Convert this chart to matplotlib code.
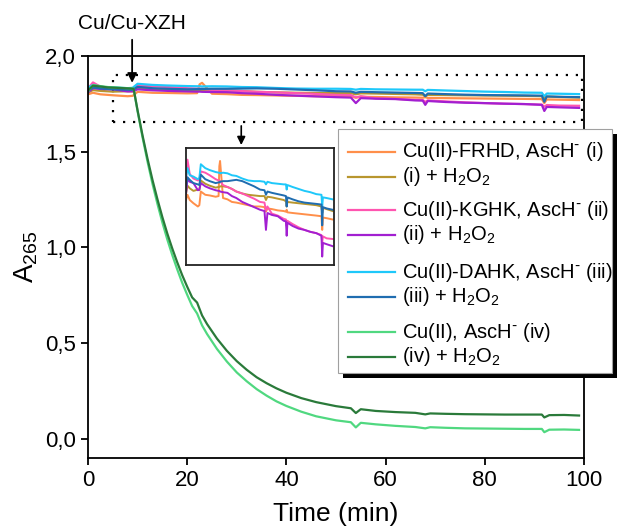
"""
A265 vs time for the Cu(II)-peptide / ascorbate oxidation traces,
with a zoomed inset of the flat (protected) curves.
"""

import matplotlib

matplotlib.use("Agg")
import matplotlib.pyplot as plt
from matplotlib.lines import Line2D
from matplotlib.patches import Rectangle

plt.rcParams.update({
    "font.family": ["Liberation Sans", "DejaVu Sans"],
    "mathtext.default": "regular",
    "axes.linewidth": 1.3,
})

# ---- data ----
T_FLAT = [0, 1, 2.5, 5, 8, 9, 10, 13, 16, 20, 22, 22.5, 23, 25, 28, 31, 34, 38, 42,
          46, 50, 53, 54, 55, 58, 62, 66, 67.5, 68, 68.5, 72, 76, 80, 84, 88,
          91.5, 92, 92.5, 95, 99]

FRHD_ASC = [1.800, 1.808, 1.800, 1.795, 1.790, 1.792, 1.813, 1.808, 1.807, 1.805,
            1.806, 1.852, 1.860, 1.803, 1.801, 1.797, 1.796, 1.794, 1.792, 1.790,
            1.790, 1.789, 1.782, 1.787, 1.786, 1.784, 1.783, 1.782, 1.785, 1.781,
            1.780, 1.779, 1.778, 1.777, 1.776, 1.775, 1.754, 1.773, 1.772, 1.770]
FRHD_H2O2 = [1.810, 1.822, 1.818, 1.814, 1.816, 1.815, 1.830, 1.825, 1.822, 1.819,
             1.820, 1.820, 1.821, 1.821, 1.820, 1.817, 1.813, 1.810, 1.808, 1.807,
             1.806, 1.806, 1.800, 1.805, 1.804, 1.802, 1.800, 1.798, 1.790, 1.797,
             1.796, 1.795, 1.794, 1.793, 1.792, 1.790, 1.780, 1.788, 1.786, 1.783]
KGHK_ASC = [1.830, 1.862, 1.840, 1.833, 1.830, 1.831, 1.844, 1.842, 1.838, 1.832,
            1.830, 1.830, 1.829, 1.823, 1.820, 1.817, 1.813, 1.810, 1.806, 1.802,
            1.797, 1.796, 1.784, 1.790, 1.779, 1.776, 1.771, 1.770, 1.760, 1.768,
            1.763, 1.758, 1.754, 1.751, 1.749, 1.746, 1.735, 1.744, 1.741, 1.740]
KGHK_H2O2 = [1.810, 1.832, 1.828, 1.826, 1.815, 1.816, 1.826, 1.821, 1.818, 1.815,
             1.814, 1.814, 1.813, 1.812, 1.811, 1.806, 1.803, 1.797, 1.793, 1.789,
             1.785, 1.783, 1.754, 1.780, 1.777, 1.775, 1.768, 1.767, 1.745, 1.765,
             1.760, 1.756, 1.754, 1.751, 1.749, 1.745, 1.713, 1.734, 1.732, 1.729]
DAHK_ASC = [1.835, 1.849, 1.838, 1.836, 1.832, 1.834, 1.855, 1.849, 1.846, 1.843,
            1.842, 1.842, 1.841, 1.842, 1.841, 1.838, 1.837, 1.833, 1.830, 1.829,
            1.829, 1.828, 1.824, 1.828, 1.826, 1.825, 1.824, 1.824, 1.816, 1.823,
            1.820, 1.817, 1.814, 1.812, 1.809, 1.808, 1.790, 1.804, 1.803, 1.801]
DAHK_H2O2 = [1.820, 1.835, 1.831, 1.826, 1.824, 1.823, 1.839, 1.832, 1.829, 1.826,
             1.827, 1.827, 1.828, 1.829, 1.829, 1.830, 1.831, 1.829, 1.825, 1.821,
             1.816, 1.815, 1.808, 1.813, 1.811, 1.809, 1.807, 1.806, 1.790, 1.804,
             1.801, 1.798, 1.796, 1.795, 1.794, 1.793, 1.761, 1.789, 1.787, 1.785]

T_GREEN = [0, 1, 4, 8, 9.2, 10, 11, 12, 13, 14, 15, 16, 17, 18, 19, 20, 21, 22, 23,
           24, 26, 28, 30, 32, 34, 36, 38, 40, 43, 46, 50, 53, 54, 55, 58, 62, 66,
           68, 69, 72, 76, 80, 84, 88, 91.5, 92, 93, 96, 99]
CU_ASC = [1.814, 1.848, 1.838, 1.832, 1.830, 1.711, 1.575, 1.449, 1.333, 1.228,
          1.130, 1.041, 0.960, 0.885, 0.815, 0.753, 0.694, 0.655, 0.593, 0.548,
          0.470, 0.404, 0.347, 0.301, 0.260, 0.226, 0.196, 0.172, 0.142, 0.118,
          0.097, 0.087, 0.060, 0.084, 0.076, 0.068, 0.062, 0.055, 0.061, 0.058,
          0.055, 0.054, 0.053, 0.052, 0.052, 0.035, 0.048, 0.049, 0.047]
CU_H2O2 = [1.820, 1.845, 1.836, 1.831, 1.829, 1.716, 1.585, 1.464, 1.353, 1.252,
           1.158, 1.072, 0.994, 0.922, 0.855, 0.795, 0.739, 0.712, 0.645, 0.600,
           0.524, 0.460, 0.406, 0.361, 0.322, 0.291, 0.264, 0.241, 0.213, 0.192,
           0.171, 0.160, 0.135, 0.155, 0.146, 0.140, 0.136, 0.128, 0.133, 0.131,
           0.129, 0.128, 0.127, 0.127, 0.127, 0.112, 0.124, 0.125, 0.122]

MINUS = r"$^{\text{-}}$"
SERIES = [
    (T_FLAT, FRHD_ASC, "#FF8F4A", f"Cu(II)-FRHD, AscH{MINUS} (i)"),
    (T_FLAT, FRHD_H2O2, "#B8962E", "(i) + H$_{2}$O$_{2}$"),
    (T_FLAT, KGHK_ASC, "#FF55B0", f"Cu(II)-KGHK, AscH{MINUS} (ii)"),
    (T_FLAT, KGHK_H2O2, "#A21FD1", "(ii) + H$_{2}$O$_{2}$"),
    (T_FLAT, DAHK_ASC, "#1EC8FA", f"Cu(II)-DAHK, AscH{MINUS} (iii)"),
    (T_FLAT, DAHK_H2O2, "#1F6DB0", "(iii) + H$_{2}$O$_{2}$"),
    (T_GREEN, CU_ASC, "#50D880", f"Cu(II), AscH{MINUS} (iv)"),
    (T_GREEN, CU_H2O2, "#2A7A3A", "(iv) + H$_{2}$O$_{2}$"),
]

Y_TICKS = [0.0, 0.5, 1.0, 1.5, 2.0]
X_TICKS = [0, 20, 40, 60, 80, 100]

W, H = 617, 530
fig = plt.figure(figsize=(W / 100, H / 100), dpi=100)
ax = fig.add_axes([0.1426, 0.1358, 0.8039, 0.7585])

for t, y, c, lab in SERIES:
    ax.plot(t, y, color=c, lw=1.6)

ax.set_xlim(0, 100)
ax.set_ylim(-0.1, 2.0)
ax.set_xticks(X_TICKS)
ax.set_yticks(Y_TICKS)
ax.set_yticklabels([f"{v:.1f}".replace(".", ",") for v in Y_TICKS])
ax.tick_params(direction="out", length=5, width=1.3, labelsize=16)
ax.set_xlabel("Time (min)", fontsize=19, labelpad=8)
ax.set_ylabel("A$_{265}$", fontsize=20, labelpad=4)

# dotted zoom window
ax.add_patch(Rectangle((5, 1.653), 94.5, 0.247, fill=False, edgecolor="black",
                       lw=1.6, linestyle=(0, (1, 3.5))))

# Cu addition marker
ax.annotate("", xy=(8.9, 1.86), xytext=(8.9, 2.085), annotation_clip=False,
            arrowprops=dict(arrowstyle="-|>", color="black", lw=1.3,
                            mutation_scale=14, shrinkA=0, shrinkB=0))
ax.text(8.9, 2.172, "Cu/Cu-XZH", ha="center", va="center", fontsize=15,
        clip_on=False)
ax.annotate("", xy=(30.9, 1.535), xytext=(30.9, 1.635),
            arrowprops=dict(arrowstyle="-|>", color="black", lw=1.2,
                            mutation_scale=12, shrinkA=0, shrinkB=0))

# inset
ins = fig.add_axes([0.3015, 0.5, 0.2399, 0.2208])
for t, y, c, lab in SERIES[:6]:
    ins.plot(t, y, color=c, lw=1.4)
ins.set_xlim(0, 100)
ins.set_ylim(1.70, 1.88)
ins.set_xticks([])
ins.set_yticks([])
for s in ins.spines.values():
    s.set_linewidth(1.3)
    s.set_color("#222222")


# legend drawn by hand in figure pixels (row spacing is grouped in pairs)
def px(x, y):
    return x / W, 1 - y / H


ROWS_Y = [152, 177, 210, 235, 272, 297, 332, 357]
box_l, box_t, box_r, box_b = 338, 129, 612, 373
fig.patches.append(Rectangle(px(box_l + 5, box_b + 5), (box_r - box_l) / W,
                             (box_b - box_t) / H, transform=fig.transFigure,
                             facecolor="black", edgecolor="none", zorder=5))
fig.patches.append(Rectangle(px(box_l, box_b), (box_r - box_l) / W,
                             (box_b - box_t) / H, transform=fig.transFigure,
                             facecolor="white", edgecolor="#a0a0a0", lw=0.8,
                             zorder=6))
for (t, y, c, lab), ry in zip(SERIES, ROWS_Y):
    x0, yy = px(348, ry)
    x1, _ = px(395, ry)
    fig.lines.append(Line2D([x0, x1], [yy, yy], color=c, lw=1.6,
                            transform=fig.transFigure, zorder=7))
    fig.text(402 / W, yy, lab, fontsize=14.5, va="center", ha="left", zorder=8)

fig.savefig("out.png", dpi=100)
